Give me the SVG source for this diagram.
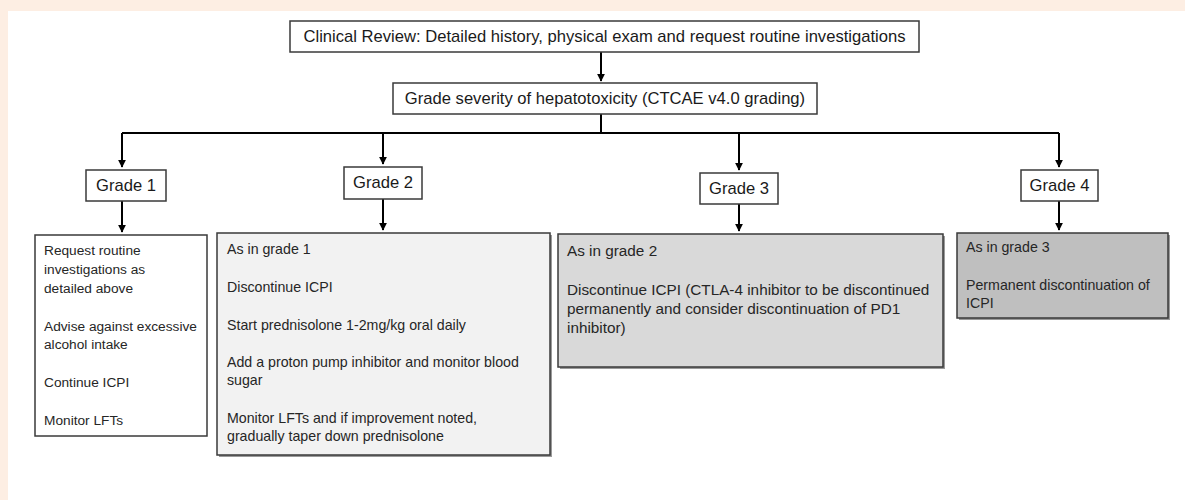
<svg xmlns="http://www.w3.org/2000/svg" width="1185" height="500" viewBox="0 0 1185 500">
<style>
.box{stroke:#3a3a3a;stroke-width:1.5}
.sh{fill:#9a9a9a}
.t{font-family:"Liberation Sans",Arial,sans-serif;font-size:14.2px;fill:#262626}
.t1{font-family:"Liberation Sans",Arial,sans-serif;font-size:13.7px;fill:#262626}
.t3{font-family:"Liberation Sans",Arial,sans-serif;font-size:15.3px;fill:#262626}
.h{font-family:"Liberation Sans",Arial,sans-serif;font-size:16.6px;fill:#1a1a1a}
.c{stroke:#000;stroke-width:2;fill:none}
</style>
<defs>
<marker id="ah" viewBox="0 0 10 10" refX="9" refY="5" markerWidth="4" markerHeight="4" orient="auto" markerUnits="strokeWidth">
<path d="M0,0 L10,5 L0,10 z" fill="#000"/>
</marker>
</defs>
<rect x="0" y="0" width="1185" height="500" fill="#fdeee3"/>
<rect x="8" y="11" width="1177" height="489" fill="#ffffff"/>
<g id="connectors">
<line class="c" x1="601" y1="52" x2="601" y2="81" marker-end="url(#ah)"/>
<line class="c" x1="601" y1="114" x2="601" y2="133"/>
<line class="c" x1="122" y1="133" x2="1059" y2="133"/>
<line class="c" x1="122" y1="133" x2="122" y2="167" marker-end="url(#ah)"/>
<line class="c" x1="383" y1="133" x2="383" y2="164" marker-end="url(#ah)"/>
<line class="c" x1="739" y1="133" x2="739" y2="170" marker-end="url(#ah)"/>
<line class="c" x1="1059" y1="133" x2="1059" y2="167" marker-end="url(#ah)"/>
<line class="c" x1="122" y1="201" x2="122" y2="232" marker-end="url(#ah)"/>
<line class="c" x1="383" y1="199" x2="383" y2="230" marker-end="url(#ah)"/>
<line class="c" x1="739" y1="204" x2="739" y2="231" marker-end="url(#ah)"/>
<line class="c" x1="1059" y1="201" x2="1059" y2="230" marker-end="url(#ah)"/>
</g>
<g id="review">
<rect class="box" x="290" y="21" width="629" height="31" fill="#fff"/>
<text class="h" x="604.5" y="42" text-anchor="middle">Clinical Review: Detailed history, physical exam and request routine investigations</text>
</g>
<g id="severity">
<rect class="box" x="393" y="83" width="424" height="31" fill="#fff"/>
<text class="h" x="605" y="104" text-anchor="middle">Grade severity of hepatotoxicity (CTCAE v4.0 grading)</text>
</g>
<g id="grade1">
<rect class="box" x="86" y="170" width="80" height="31" fill="#fff"/>
<text class="h" x="126" y="191" text-anchor="middle">Grade 1</text>
</g>
<g id="grade2">
<rect class="box" x="344" y="167" width="78" height="32" fill="#fff"/>
<text class="h" x="383" y="188" text-anchor="middle">Grade 2</text>
</g>
<g id="grade3">
<rect class="box" x="700" y="173" width="78" height="31" fill="#fff"/>
<text class="h" x="739" y="194" text-anchor="middle">Grade 3</text>
</g>
<g id="grade4">
<rect class="box" x="1021" y="170" width="77" height="31" fill="#fff"/>
<text class="h" x="1059.5" y="191" text-anchor="middle">Grade 4</text>
</g>
<g id="action1">
<rect class="box" x="35" y="235" width="172" height="201" fill="#fff"/>
<text class="t1" x="44" y="255">Request routine</text>
<text class="t1" x="44" y="274">investigations as</text>
<text class="t1" x="44" y="293">detailed above</text>
<text class="t1" x="44" y="331">Advise against excessive</text>
<text class="t1" x="44" y="349">alcohol intake</text>
<text class="t1" x="44" y="387">Continue ICPI</text>
<text class="t1" x="44" y="425">Monitor LFTs</text>
</g>
<g id="action2">
<rect class="sh" x="219" y="235" width="333" height="222"/>
<rect class="box" x="217" y="233" width="333" height="222" fill="#f2f2f2"/>
<text class="t" x="227" y="254">As in grade 1</text>
<text class="t" x="227" y="292">Discontinue ICPI</text>
<text class="t" x="227" y="330">Start prednisolone 1-2mg/kg oral daily</text>
<text class="t" x="227" y="367">Add a proton pump inhibitor and monitor blood</text>
<text class="t" x="227" y="385">sugar</text>
<text class="t" x="227" y="423">Monitor LFTs and if improvement noted,</text>
<text class="t" x="227" y="441">gradually taper down prednisolone</text>
</g>
<g id="action3">
<rect class="sh" x="560" y="236" width="385" height="133"/>
<rect class="box" x="558" y="234" width="385" height="133" fill="#d9d9d9"/>
<text class="t3" x="567" y="256">As in grade 2</text>
<text class="t3" x="567" y="295">Discontinue ICPI (CTLA-4 inhibitor to be discontinued</text>
<text class="t3" x="567" y="314">permanently and consider discontinuation of PD1</text>
<text class="t3" x="567" y="333">inhibitor)</text>
</g>
<g id="action4">
<rect class="sh" x="959" y="235" width="211" height="85"/>
<rect class="box" x="957" y="233" width="211" height="85" fill="#bfbfbf"/>
<text class="t" x="966" y="252">As in grade 3</text>
<text class="t" x="966" y="290">Permanent discontinuation of</text>
<text class="t" x="966" y="308">ICPI</text>
</g>
</svg>
